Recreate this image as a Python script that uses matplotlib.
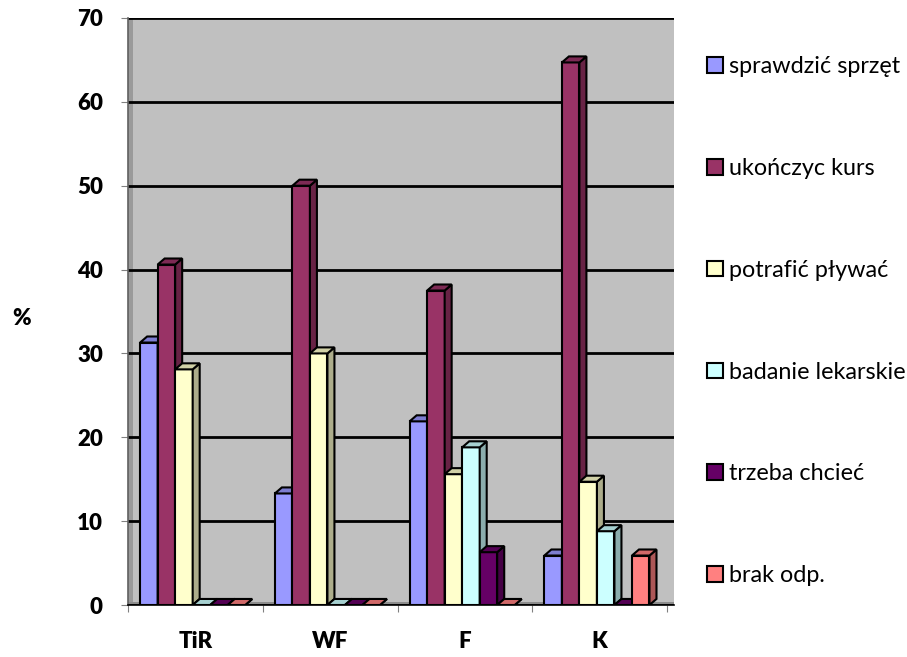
import matplotlib.pyplot as plt
import numpy as np
from matplotlib.patches import Polygon, Rectangle
from matplotlib.colors import to_rgb

# dane (%)
kategorie = ['TiR', 'WF', 'F', 'K']
serie = ['sprawdzić sprzęt', 'ukończyc kurs', 'potrafić pływać',
         'badanie lekarskie', 'trzeba chcieć', 'brak odp.']
sprawdzic_sprzet = [31.3, 13.3, 21.9, 5.9]
ukonczyc_kurs = [40.6, 50.0, 37.5, 64.7]
potrafic_plywac = [28.1, 30.0, 15.6, 14.7]
badanie_lekarskie = [0.0, 0.0, 18.8, 8.8]
trzeba_chciec = [0.0, 0.0, 6.3, 0.0]
brak_odp = [0.0, 0.0, 0.0, 5.9]
wartosci = [sprawdzic_sprzet, ukonczyc_kurs, potrafic_plywac,
            badanie_lekarskie, trzeba_chciec, brak_odp]
kolory = ['#9999FF', '#993366', '#FFFFCC', '#CCFFFF', '#660066', '#FF8080']

def ciemniej(c, f):
    r, g, b = to_rgb(c)
    return (r * f, g * f, b * f)

fig = plt.figure(figsize=(9.07, 6.57), dpi=100)
ax = fig.add_axes([128 / 907, 1 - 605 / 657, (674 - 128) / 907, (605 - 18) / 657])
ax.set_facecolor('#C0C0C0')
xmax = 4 * 546 / 539
ax.set_xlim(0, xmax)
ax.set_ylim(0, 70)

# sciana boczna i podloga
ax.add_patch(Rectangle((0, 0), 0.037, 70, facecolor='#9A9A9A', edgecolor='none', zorder=0.5))
ax.add_patch(Rectangle((0, 0), xmax, 0.35, facecolor='#8C8C8C', edgecolor='none', zorder=0.5))

ax.set_yticks(np.arange(0, 71, 10))
ax.yaxis.grid(True, color='black', linewidth=2)
ax.set_axisbelow(True)

x = np.arange(len(kategorie)) + 0.5
w = 0.13
dx, dy = 0.052, 0.72

legenda = []
for i, (vals, kol) in enumerate(zip(wartosci, kolory)):
    pos = x + (i - 2.5) * w - 0.02
    bars = ax.bar(pos, vals, w, color=kol, edgecolor='black', linewidth=1.5,
                  zorder=3 + i, label=serie[i])
    legenda.append(bars)
    for b in bars:
        x0, y0 = b.get_x(), b.get_y()
        bw, bh = b.get_width(), b.get_height()
        top = Polygon([(x0, y0 + bh), (x0 + dx, y0 + bh + dy), (x0 + bw + dx, y0 + bh + dy),
                       (x0 + bw, y0 + bh)], closed=True, facecolor=ciemniej(kol, 0.82),
                      edgecolor='black', linewidth=1.5, zorder=3 + i)
        side = Polygon([(x0 + bw, y0), (x0 + bw + dx, y0 + dy), (x0 + bw + dx, y0 + bh + dy),
                        (x0 + bw, y0 + bh)], closed=True, facecolor=ciemniej(kol, 0.68),
                       edgecolor='black', linewidth=1.5, zorder=3 + i)
        ax.add_patch(side)
        ax.add_patch(top)

ax.set_xticks(np.arange(0, 5))
ax.set_xticklabels([])
ax.set_xticks(x, minor=True)
ax.set_xticklabels(kategorie, minor=True, fontsize=16, fontweight='heavy', family='Lato')
ax.tick_params(axis='x', which='minor', length=0, pad=19)
ax.tick_params(axis='x', which='major', length=5, color='#808080', direction='out')
ax.tick_params(axis='y', length=5, color='#808080', direction='out', labelsize=16, pad=13)
for t in ax.get_yticklabels():
    t.set_fontweight('heavy')
    t.set_family('Lato')

for s in ['top', 'right']:
    ax.spines[s].set_visible(False)
ax.spines['left'].set_color('#606060')
ax.spines['left'].set_linewidth(1.2)
ax.spines['bottom'].set_color('black')
ax.spines['bottom'].set_linewidth(1.2)

fig.text(22 / 907, 1 - 319 / 657, '%', fontsize=16, fontweight='heavy', family='Lato',
         ha='center', va='center')

fig.legend(handles=legenda, labels=serie, loc='upper left', bbox_to_anchor=(698 / 907, 1 - 47 / 657),
           frameon=False, prop={'family': 'Lato', 'size': 16.8}, handlelength=0.65, handleheight=0.65,
           handletextpad=0.26, labelspacing=3.46, borderaxespad=0)

plt.savefig('out.png', dpi=100)
